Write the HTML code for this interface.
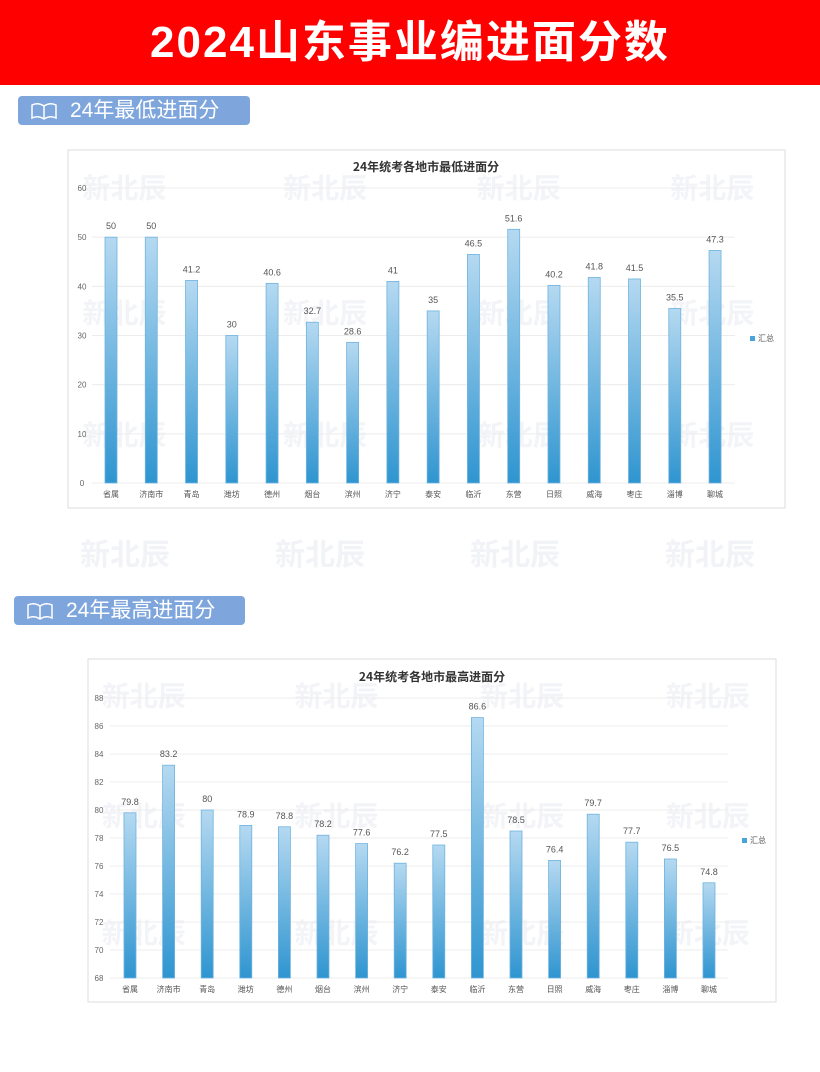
<!DOCTYPE html>
<html><head><meta charset="utf-8">
<style>
body{margin:0;width:820px;height:1072px;background:#fff;position:relative;overflow:hidden;font-family:"Liberation Sans","Noto Sans CJK SC",sans-serif}
.hdr{position:absolute;left:0;top:0;width:820px;height:85px;background:#f00;color:#fff;font-size:44px;font-weight:bold;text-align:center;line-height:85px;letter-spacing:2px}
.sec{position:absolute;height:29px;background:#7ea6dc;border-radius:4px;color:#fff;font-size:21px;line-height:29px;padding-left:52px;box-sizing:border-box}
.sec svg{position:absolute;left:12px;top:6px}
.wm{position:absolute;color:#f1f3f6;font-size:30px;font-weight:bold;font-family:"Noto Sans CJK SC",sans-serif}
</style></head><body>
<div class="hdr">2024山东事业编进面分数</div>
<div class="sec" style="left:18px;top:96px;width:232px"><svg width="28" height="18" viewBox="0 0 28 18"><path d="M2 3 Q8 0 14 4 Q20 0 26 3 V16 Q20 13 14 17 Q8 13 2 16Z M14 4V17" fill="none" stroke="#fff" stroke-width="1.5"/></svg>24年最低进面分</div>
<div class="sec" style="left:14px;top:596px;width:231px"><svg width="28" height="18" viewBox="0 0 28 18"><path d="M2 3 Q8 0 14 4 Q20 0 26 3 V16 Q20 13 14 17 Q8 13 2 16Z M14 4V17" fill="none" stroke="#fff" stroke-width="1.5"/></svg>24年最高进面分</div>
<div class="wm" style="left:80px;top:530px">新北辰</div><div class="wm" style="left:275px;top:530px">新北辰</div><div class="wm" style="left:470px;top:530px">新北辰</div><div class="wm" style="left:665px;top:530px">新北辰</div>
<svg id="c1" style="position:absolute;left:0;top:0" width="820" height="1072"></svg>
<script>
const cats=["省属","济南市","青岛","潍坊","德州","烟台","滨州","济宁","泰安","临沂","东营","日照","威海","枣庄","淄博","聊城"];
const minVals=[50,50,41.2,30,40.6,32.7,28.6,41,35,46.5,51.6,40.2,41.8,41.5,35.5,47.3];
const maxVals=[79.8,83.2,80,78.9,78.8,78.2,77.6,76.2,77.5,86.6,78.5,76.4,79.7,77.7,76.5,74.8];
const minTicks=[0,10,20,30,40,50,60];
const maxTicks=[68,70,72,74,76,78,80,82,84,86,88];
const svg=document.getElementById('c1');
const NS='http://www.w3.org/2000/svg';
function mk(t,a,p){const e=document.createElementNS(NS,t);for(const k in a)e.setAttribute(k,a[k]);(p||svg).appendChild(e);return e;}
const defs=mk('defs',{});
const g=mk('linearGradient',{id:'bg',x1:0,y1:0,x2:0,y2:1},defs);
mk('stop',{offset:'0','stop-color':'#b5d9f1'},g);mk('stop',{offset:'1','stop-color':'#2f95d0'},g);
function chart(o){
  const box=mk('rect',{x:o.bx,y:o.by,width:o.bw,height:o.bh,fill:'#fff',stroke:'#dcdcdc'});
  
  
  [[0.02,0.05],[0.3,0.05],[0.57,0.05],[0.84,0.05],[0.02,0.4],[0.3,0.4],[0.57,0.4],[0.84,0.4],[0.02,0.74],[0.3,0.74],[0.57,0.74],[0.84,0.74]].forEach(p=>{
    const w=mk('text',{x:o.bx+p[0]*o.bw,y:o.by+p[1]*o.bh+30,'font-size':28,'font-weight':'bold',fill:'#f3f4f7','font-family':'Noto Sans CJK SC,sans-serif'});w.textContent='新北辰';
    
    
  });
  const t0=o.ticks[0],t1=o.ticks[o.ticks.length-1];
  const y=v=>o.y0+(v-t0)/(t1-t0)*(o.y1-o.y0);
  const x=i=>o.x0+i*o.dx;
  o.ticks.forEach(tv=>{
    const ln=mk('line',{x1:o.gx0,x2:o.gx1,y1:y(tv),y2:y(tv),stroke:'#ececec'});
    
    
    const tx=mk('text',{x:o.lx,y:y(tv)+3,'font-size':8,fill:'#666','text-anchor':'middle'});tx.textContent=tv;
    
    
  });
  const tt=mk('text',{x:o.tx,y:o.ty,'font-size':12,'font-weight':'bold',fill:'#333','text-anchor':'middle','font-family':'Noto Sans CJK SC,sans-serif'});tt.textContent=o.title;
  
  
  o.vals.forEach((v,i)=>{
    const r=mk('rect',{x:x(i)-6,y:y(v),width:12,height:y(t0)-y(v),fill:'url(#bg)',stroke:'#6fb3df','stroke-width':0.8});
    
    
    const vl=mk('text',{x:x(i),y:y(v)-8,'font-size':9,fill:'#555','text-anchor':'middle'});vl.textContent=v;
    
    
    const cl=mk('text',{x:x(i),y:o.y0+14,'font-size':8,fill:'#555','text-anchor':'middle','font-family':'Noto Sans CJK SC,sans-serif'});cl.textContent=cats[i];
    
    
  });
  const lg=mk('rect',{x:o.lgx,y:o.lgy-4,width:5,height:5,fill:'#4aa3d9'});
  
  
  const lt=mk('text',{x:o.lgx+8,y:o.lgy+1,'font-size':8,fill:'#555','font-family':'Noto Sans CJK SC,sans-serif'});lt.textContent='汇总';
  
  
}
chart({name:'min-chart',bx:68,by:150,bw:717,bh:358,ticks:minTicks,vals:minVals,y0:483,y1:188,x0:111,dx:40.27,gx0:92,gx1:735,lx:82,tx:426,ty:171,title:'24年统考各地市最低进面分',lgx:750,lgy:340});
chart({name:'max-chart',bx:88,by:659,bw:688,bh:343,ticks:maxTicks,vals:maxVals,y0:978,y1:698,x0:130,dx:38.6,gx0:110,gx1:728,lx:99,tx:432,ty:681,title:'24年统考各地市最高进面分',lgx:742,lgy:842});
</script>
</body></html>
